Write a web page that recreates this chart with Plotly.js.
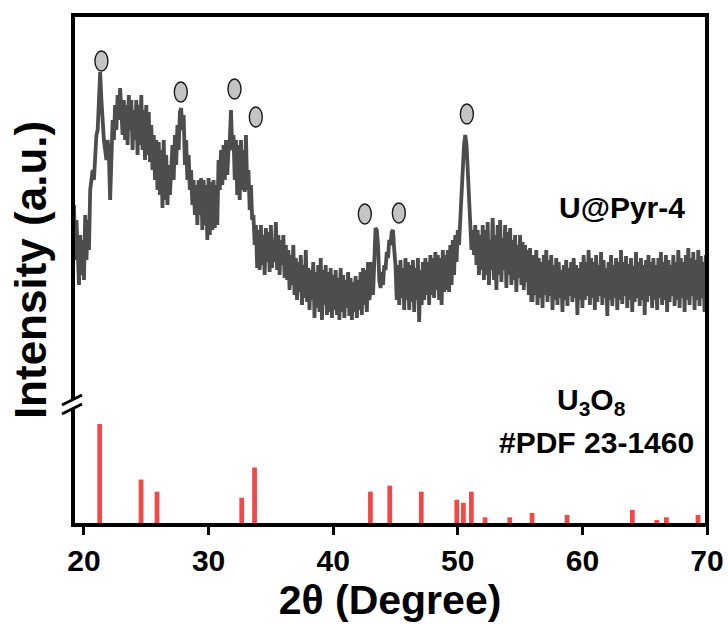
<!DOCTYPE html>
<html>
<head>
<meta charset="utf-8">
<script src="https://cdn.plot.ly/plotly-3.0.1.min.js"></script>
<style>html,body{margin:0;padding:0;background:#fff;}#chart{width:728px;height:625px;}</style>
</head>
<body>
<div id="chart"></div>
<script>
// ---- measured XRD pattern of U@Pyr-4 (2-theta scan, 0.1 deg step) ----
const twoThetaStart = 19.2;
const twoThetaStep = 0.1;
const patternIntensity = [
  135, 80, 120, 70, 55, 105, 65, 100,
  60, 125, 80, 120, 90, 150, 165, 170, 160, 185,
  205, 210, 250, 268, 240, 215, 200, 190, 180, 200,
  185, 140, 175, 220, 200, 235, 210, 245, 220, 252,
  230, 205, 240, 200, 235, 195, 245, 210, 240, 190,
  230, 200, 240, 185, 235, 195, 245, 190, 230, 180,
  235, 185, 228, 178, 215, 170, 205, 160, 200, 150,
  198, 145, 190, 132, 200, 140, 185, 135, 175, 145,
  170, 195, 160, 205, 175, 215, 190, 228, 232, 210,
  225, 175, 200, 160, 185, 150, 170, 135, 160, 125,
  155, 115, 160, 125, 162, 110, 160, 115, 155, 100,
  162, 105, 158, 110, 160, 112, 155, 115, 180, 150,
  190, 155, 195, 160, 200, 165, 190, 200, 230, 190,
  205, 160, 200, 145, 195, 140, 200, 150, 190, 148,
  205, 150, 170, 130, 155, 120, 125, 95, 115, 72,
  110, 70, 115, 75, 105, 65, 112, 78, 108, 68,
  115, 72, 100, 78, 118, 70, 105, 65, 100, 75,
  105, 62, 95, 60, 90, 50, 85, 55, 95, 45,
  82, 40, 78, 48, 85, 35, 75, 42, 90, 38,
  72, 30, 70, 40, 78, 22, 68, 32, 75, 28,
  82, 20, 70, 35, 75, 25, 68, 28, 72, 22,
  65, 30, 70, 25, 62, 20, 72, 28, 65, 22,
  60, 32, 68, 24, 62, 20, 58, 28, 64, 22,
  60, 30, 68, 25, 72, 35, 70, 28, 78, 40,
  50, 78, 45, 85, 112, 110, 95, 60, 52, 68,
  55, 75, 70, 88, 82, 100, 95, 108, 110, 90,
  75, 40, 75, 35, 80, 42, 72, 30, 82, 40,
  78, 30, 75, 38, 80, 28, 72, 40, 82, 18,
  70, 35, 78, 40, 82, 45, 78, 35, 85, 45,
  82, 42, 88, 50, 85, 40, 82, 35, 90, 48,
  85, 50, 90, 48, 95, 55, 100, 65, 105, 78,
  110, 95, 125, 140, 170, 195, 205, 195, 170, 140,
  118, 90, 110, 85, 115, 75, 110, 65, 105, 70,
  115, 60, 110, 65, 118, 55, 100, 70, 122, 60,
  105, 50, 115, 65, 120, 58, 102, 70, 115, 52,
  108, 65, 112, 55, 100, 60, 105, 48, 95, 62,
  105, 55, 98, 50, 95, 58, 90, 45, 92, 40,
  40, 85, 45, 90, 35, 82, 42, 78, 32, 85,
  45, 90, 38, 80, 44, 85, 30, 75, 40, 82,
  35, 78, 42, 70, 28, 75, 40, 80, 34, 72,
  44, 78, 38, 82, 42, 75, 25, 72, 40, 78,
  32, 85, 40, 78, 44, 90, 35, 82, 42, 78,
  30, 85, 38, 75, 44, 88, 35, 80, 42, 72,
  24, 78, 40, 85, 34, 75, 42, 82, 30, 78,
  40, 90, 36, 78, 44, 84, 32, 76, 40, 82,
  28, 74, 38, 88, 42, 78, 34, 82, 40, 75,
  25, 80, 38, 85, 44, 78, 32, 82, 40, 75,
  30, 82, 42, 88, 35, 78, 40, 85, 28, 80,
  38, 75, 44, 85, 34, 78, 40, 90, 32, 82,
  42, 78, 28, 85, 40, 92, 35, 82, 44, 88,
  30, 80, 40, 90, 34, 84, 42, 78, 28, 85,
  40
];

// ---- reference pattern U3O8, PDF 23-1460 ----
const refPositions = [21.26, 24.58, 25.86, 32.66, 33.69, 42.99, 44.54, 47.07, 49.92, 50.45, 51.09, 52.19, 54.17, 55.96, 58.77, 64.01, 65.97, 66.74, 69.28];
const refIntensities = [100, 45, 33, 27, 57, 33, 39, 33, 25, 22, 33, 7.6, 7.6, 12, 10, 15, 5, 7.6, 10];

// ---- peak markers (circles above the U3O8 reflections) ----
const markerTwoTheta = [21.40, 27.77, 32.08, 33.79, 42.54, 45.27, 50.73];
const markerIntensity = [279, 248, 251, 223, 126, 127, 226];

// ---- labels ----
const xTickValues = [20, 30, 40, 50, 60, 70];
const xTitle = '2θ (Degree)';
const yTitle = 'Intensity (a.u.)';
const sampleLabel = 'U@Pyr-4';
const refLabel = 'U<sub>3</sub>O<sub>8</sub>';
const refCardLabel = '#PDF 23-1460';

const twoTheta = patternIntensity.map((_, i) => +(twoThetaStart + i * twoThetaStep).toFixed(2));

const FONT = 'Liberation Sans, Arial, Helvetica, sans-serif';

const traces = [
  {
    type: 'scatter', mode: 'lines',
    x: twoTheta, y: patternIntensity,
    line: {color: '#4d4d4d', width: 3.8},
    yaxis: 'y', hoverinfo: 'skip', showlegend: false
  },
  {
    type: 'bar',
    x: refPositions, y: refIntensities,
    width: 0.38,
    marker: {color: '#f34848', line: {width: 0}},
    xaxis: 'x', yaxis: 'y2', hoverinfo: 'skip', showlegend: false
  }
];

const shapes = [];
markerTwoTheta.forEach((t, i) => {
  shapes.push({
    type: 'circle', xref: 'x', yref: 'y',
    xsizemode: 'pixel', ysizemode: 'pixel',
    xanchor: t, yanchor: markerIntensity[i],
    x0: -6.5, x1: 6.5, y0: -10, y1: 10,
    fillcolor: '#c4c4c4', line: {color: '#1a1a1a', width: 1.4}, layer: 'above'
  });
});
// frame
shapes.push({type: 'rect', xref: 'paper', yref: 'paper', x0: 0, x1: 1, y0: 0, y1: 1,
  line: {color: '#000', width: 4}, fillcolor: 'rgba(0,0,0,0)', layer: 'above'});
// axis break gap and slashes
shapes.push({type: 'rect', xref: 'paper', yref: 'paper', x0: -0.007, x1: 0.007, y0: 0.2275, y1: 0.2451,
  line: {width: 0}, fillcolor: '#ffffff', layer: 'above'});
shapes.push({type: 'line', xref: 'paper', yref: 'paper', x0: -0.0174, x1: 0.0142, y0: 0.2353, y1: 0.2549,
  line: {color: '#000', width: 3}, layer: 'above'});
shapes.push({type: 'line', xref: 'paper', yref: 'paper', x0: -0.0174, x1: 0.0142, y0: 0.2176, y1: 0.2373,
  line: {color: '#000', width: 3}, layer: 'above'});

const layout = {
  width: 728, height: 625,
  margin: {l: 73, r: 21, t: 15, b: 100, pad: 0},
  paper_bgcolor: '#fff', plot_bgcolor: '#fff',
  font: {family: FONT, color: '#000'},
  showlegend: false,
  hovermode: false,
  xaxis: {
    range: [19.12, 70], tickvals: xTickValues,
    ticks: 'outside', ticklen: 9, tickwidth: 3, tickcolor: '#000',
    showline: false, showgrid: false, zeroline: false,
    tickfont: {family: FONT, size: 30, weight: 'bold', color: '#000'},
    title: {text: xTitle, font: {family: FONT, size: 41, weight: 'bold', color: '#000'}, standoff: 3}
  },
  yaxis: {
    range: [-185, 325], showticklabels: false, ticks: '', showline: false, showgrid: false, zeroline: false,
    title: {text: yTitle, font: {family: FONT, size: 44, weight: 'bold', color: '#000'}, standoff: 11}
  },
  yaxis2: {
    range: [0, 505], overlaying: 'y', visible: false, showgrid: false, zeroline: false
  },
  shapes: shapes,
  annotations: [
    {xref: 'paper', yref: 'paper', x: 0.866, y: 0.6225, text: sampleLabel, showarrow: false,
      xanchor: 'center', yanchor: 'middle', font: {family: FONT, size: 30, weight: 'bold', color: '#000'}},
    {xref: 'paper', yref: 'paper', x: 0.8186, y: 0.2412, text: refLabel, showarrow: false,
      xanchor: 'center', yanchor: 'middle', font: {family: FONT, size: 30, weight: 'bold', color: '#000'}},
    {xref: 'paper', yref: 'paper', x: 0.8257, y: 0.1618, text: refCardLabel, showarrow: false,
      xanchor: 'center', yanchor: 'middle', font: {family: FONT, size: 30, weight: 'bold', color: '#000'}}
  ]
};

Plotly.newPlot('chart', traces, layout, {displayModeBar: false, staticPlot: true});
</script>
</body>
</html>
